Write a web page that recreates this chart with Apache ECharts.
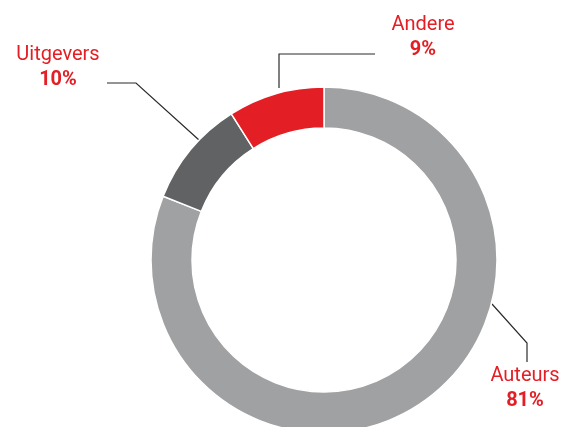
<!DOCTYPE html>
<html lang="nl">
<head>
	<meta charset="UTF-8">
	<title>Verdeling</title>
	<script src="https://cdn.jsdelivr.net/npm/echarts@6/dist/echarts.min.js"></script>
	<style>
		body { margin: 0; background: #fff; }
	</style>
</head>
<body>
	<div id="main" style="width: 565px;height: 427px"></div>
	<script>
		// data
		var categories = ['Auteurs', 'Uitgevers', 'Andere'];
		var shares = [81, 10, 9];
		var colors = ['#a0a1a3', '#616264', '#e31e24'];

		// where each label sits and how its leader line runs (pixels)
		var labelSpots = [
			{ x: 525, y: 388, line: [[492, 304], [527, 343], [527, 362]] },
			{ x: 58, y: 67, line: [[199, 140], [136, 83], [107, 83]] },
			{ x: 423, y: 37, line: [[279, 88], [279, 54], [375, 54]] }
		];

		var myChart = echarts.init(document.getElementById('main'));

		var pieData = categories.map(function (name, i) {
			return { name: name, value: shares[i], itemStyle: { color: colors[i] } };
		});

		var option = {
			animation: false,
			series: [
				{
					type: 'pie',
					center: [324, 260],
					radius: [132, 173],
					startAngle: 90,
					clockwise: true,
					data: pieData,
					itemStyle: {
						borderColor: '#fff',
						borderWidth: 1.5
					},
					label: {
						show: true,
						position: 'outside',
						formatter: '{n|{b}}\n{v|{c}%}',
						rich: {
							n: { fontFamily: 'Roboto', fontSize: 20, color: '#e31e24', lineHeight: 25, align: 'center' },
							v: { fontFamily: 'Roboto', fontSize: 20, fontWeight: 'bold', color: '#e31e24', lineHeight: 25, align: 'center' }
						}
					},
					labelLine: {
						show: true,
						lineStyle: { color: '#2b2b2b', width: 1.2 }
					},
					labelLayout: function (params) {
						var s = labelSpots[params.dataIndex];
						return {
							x: s.x,
							y: s.y,
							align: 'center',
							verticalAlign: 'middle',
							labelLinePoints: s.line
						};
					}
				}
			]
		};

		myChart.setOption(option);
	</script>
</body>
</html>
